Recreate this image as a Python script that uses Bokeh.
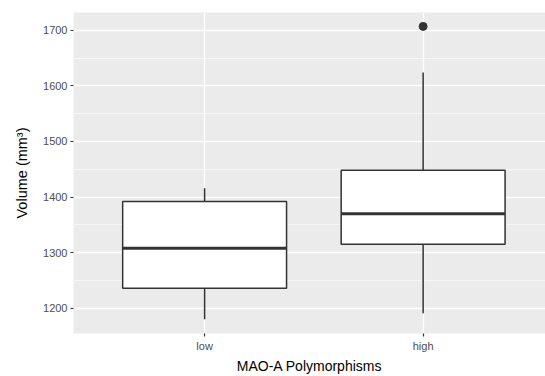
from bokeh.plotting import figure
from bokeh.models import FixedTicker, Range1d
from bokeh.embed import file_html
from bokeh.resources import INLINE

# Data
groups = ["low", "high"]
positions = [1, 2]
lower_whisker = [1180, 1191]
q1 = [1236, 1315]
median = [1308, 1370]
q3 = [1392, 1448]
upper_whisker = [1416, 1624]
outlier_group = [2]
outlier_value = [1707]

y_ticks = [1200, 1300, 1400, 1500, 1600, 1700]
y_minor = [1250, 1350, 1450, 1550, 1650]

box_width = 0.75
line_col = "#333333"
font = "Liberation Sans"

p = figure(width=545, height=376, output_backend="svg", toolbar_location=None,
           x_range=Range1d(0.4, 2.56), y_range=Range1d(1154.5, 1732),
           min_border_left=73, min_border_right=0, min_border_top=12, min_border_bottom=38)

p.background_fill_color = "#EBEBEB"
p.border_fill_color = "white"
p.outline_line_color = None

# grids
p.xgrid.ticker = FixedTicker(ticks=positions)
p.xgrid.grid_line_color = "white"
p.xgrid.grid_line_width = 1.3
p.ygrid.ticker = FixedTicker(ticks=y_ticks, minor_ticks=y_minor)
p.ygrid.grid_line_color = "white"
p.ygrid.grid_line_width = 1.3
p.ygrid.minor_grid_line_color = "white"
p.ygrid.minor_grid_line_width = 0.6

# axes
p.xaxis.ticker = FixedTicker(ticks=positions)
p.xaxis.major_label_overrides = {pos: g for pos, g in zip(positions, groups)}
p.yaxis.ticker = FixedTicker(ticks=y_ticks)
for ax in (p.xaxis, p.yaxis):
    ax.axis_line_color = None
    ax.major_tick_line_color = "#333333"
    ax.major_tick_line_width = 1.2
    ax.major_tick_out = 3
    ax.major_tick_in = 0
    ax.minor_tick_line_color = None
    ax.major_label_text_font = font
    ax.major_label_text_font_size = "11px"
    ax.major_label_text_color = "#4D4D4D"
    ax.axis_label_text_font = font
    ax.axis_label_text_font_size = "14px"
    ax.axis_label_text_font_style = "normal"
    ax.axis_label_text_color = "black"
p.xaxis.axis_label = "MAO-A Polymorphisms"
p.yaxis.axis_label = "Volume (mm³)"
p.yaxis.axis_label_text_font_size = "14.5px"
p.xaxis.major_label_standoff = 3
p.yaxis.major_label_standoff = 3
p.xaxis.axis_label_standoff = 3
p.yaxis.axis_label_standoff = 10

# whiskers
p.segment(x0=positions, y0=q3, x1=positions, y1=upper_whisker, line_color=line_col, line_width=1.5)
p.segment(x0=positions, y0=lower_whisker, x1=positions, y1=q1, line_color=line_col, line_width=1.5)
# boxes
p.vbar(x=positions, width=box_width, bottom=q1, top=q3, fill_color="white",
       line_color=line_col, line_width=1.5)
# medians
p.segment(x0=[x - box_width / 2 for x in positions], y0=median,
          x1=[x + box_width / 2 for x in positions], y1=median,
          line_color=line_col, line_width=3)
# outliers
p.scatter(x=outlier_group, y=outlier_value, size=8, marker="circle",
          fill_color=line_col, line_color=line_col)

open("out.html", "w").write(file_html(p, INLINE))
